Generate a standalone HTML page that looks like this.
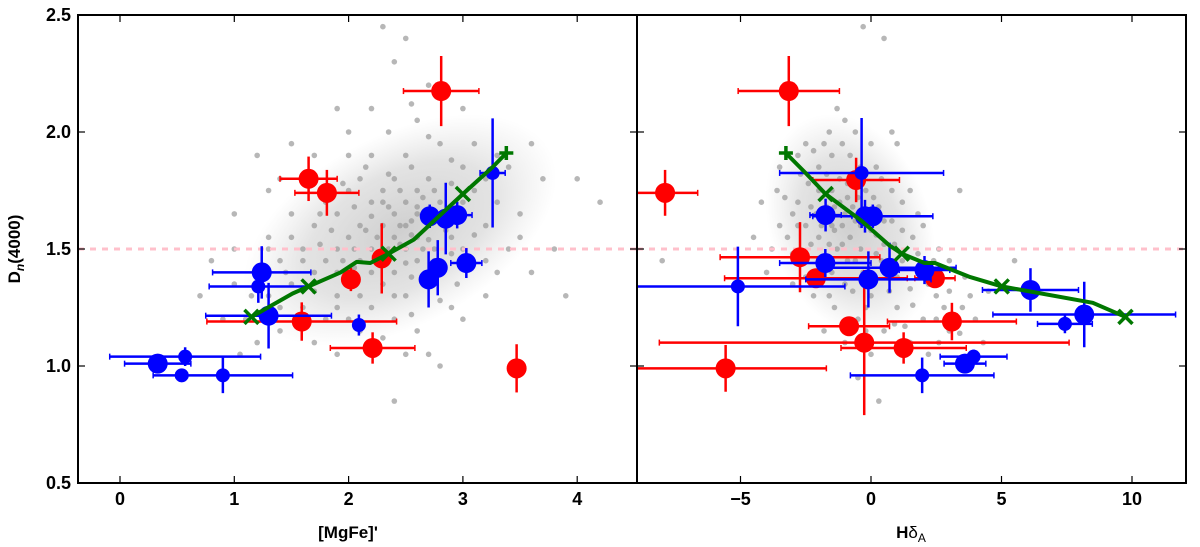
<!DOCTYPE html>
<html><head><meta charset="utf-8"><style>
html,body{margin:0;padding:0;background:#fff}
svg{display:block;font-family:"Liberation Sans",sans-serif;font-weight:bold}
</style></head><body>
<svg id="chart" width="1200" height="547" viewBox="0 0 1200 547" xmlns="http://www.w3.org/2000/svg">
<defs>
<radialGradient id="cloudGrad"><stop offset="0" stop-color="#a8a8a8" stop-opacity="0.55"/><stop offset="0.6" stop-color="#b0b0b0" stop-opacity="0.35"/><stop offset="1" stop-color="#c0c0c0" stop-opacity="0"/></radialGradient>
</defs>
</svg>
<script>
// ---- data ----
const yTicks=[0.5,1.0,1.5,2.0,2.5];
const yTickLabels=["0.5","1.0","1.5","2.0","2.5"];
const leftXTicks=[0,1,2,3,4];
const leftXTickLabels=["0","1","2","3","4"];
const rightXTicks=[-5,0,5,10];
const rightXTickLabels=["\u22125","0","5","10"];
const leftRed=[[2.81,2.175,0.33,0.15],[1.65,1.80,0.25,0.095],[1.81,1.74,0.28,0.098],[2.29,1.46,0.08,0.15],[2.02,1.37,0.05,0.05],[1.59,1.19,0.83,0.082],[2.21,1.077,0.37,0.067],[3.47,0.99,0,0.103]];
const leftBlue=[[3.26,1.825,0.11,0.233,0],[2.71,1.64,0.05,0.05,1],[2.85,1.63,0.05,0.153,1],[2.95,1.645,0.13,0.057,1],[2.78,1.42,0.05,0.118,1],[2.70,1.37,0.05,0.12,1],[3.03,1.44,0.136,0.064,1],[1.24,1.40,0.43,0.112,1],[1.21,1.34,0.43,0.07,0],[1.30,1.215,0.55,0.14,1],[2.09,1.175,0.03,0.045,0],[0.33,1.01,0.29,0,1],[0.57,1.04,0.66,0.04,0],[0.54,0.96,0.05,0,0],[0.90,0.96,0.61,0.076,0]];
const leftGreenX=[1.15,1.51,1.65,1.93,2.07,2.19,2.35,2.57,3.0,3.26,3.38];
const leftGreenY=[1.21,1.31,1.34,1.40,1.445,1.44,1.48,1.54,1.735,1.85,1.91];
const leftGreenMarks=[1.15,1.65,2.35,3.0];
const rightRed=[[-3.15,2.175,1.94,0.15],[-7.89,1.74,1.25,0.098],[-0.57,1.795,1.66,0.095],[-2.72,1.465,3.06,0.15],[-2.11,1.375,3.5,0.04],[2.45,1.375,0.77,0.04],[-0.84,1.17,1.55,0.036],[-0.26,1.10,7.85,0.31],[1.25,1.077,2.4,0.067],[3.10,1.19,2.47,0.08],[-5.57,0.99,3.86,0.1]];
const rightBlue=[[-0.36,1.825,3.14,0.235,0],[-1.74,1.645,0.6,0.07,1],[-0.23,1.64,0.5,0.07,1],[0.07,1.64,2.3,0.05,1],[-1.75,1.44,1.75,0.06,1],[0.71,1.42,2.55,0.107,1],[2.05,1.41,0.97,0.06,1],[-0.1,1.37,2.4,0.12,1],[-5.1,1.34,4.1,0.17,0],[6.11,1.325,1.84,0.093,1],[8.17,1.22,3.5,0.14,1],[7.43,1.18,1.05,0.04,0],[3.93,1.04,1.28,0.03,0],[3.6,1.01,0.8,0.02,1],[1.96,0.96,2.75,0.076,0]];
const rightGreenX=[-3.26,-2.51,-1.74,-0.36,0.71,1.18,2.05,2.45,3.8,5.01,8.5,9.75];
const rightGreenY=[1.91,1.825,1.735,1.62,1.515,1.48,1.44,1.44,1.38,1.34,1.27,1.21];
const rightGreenMarks=[-1.74,1.18,5.01,9.75];
const leftGrey=[[2.3,2.45],[2.5,2.4],[2.4,2.3],[1.9,2.1],[2.0,2.0],[2.6,2.05],[2.8,1.95],[3.1,1.95],[1.5,1.95],[1.2,1.9],[2.2,1.9],[2.5,1.9],[3.0,1.85],[3.4,1.85],[3.7,1.8],[2.1,1.8],[2.4,1.8],[2.7,1.8],[1.3,1.75],[2.0,1.75],[2.3,1.75],[2.6,1.75],[3.1,1.75],[1.8,1.7],[2.2,1.7],[2.5,1.7],[2.8,1.7],[3.3,1.7],[1.0,1.65],[1.5,1.65],[1.9,1.65],[2.4,1.65],[2.6,1.65],[3.5,1.65],[1.7,1.6],[2.1,1.6],[2.3,1.6],[2.5,1.6],[2.7,1.6],[3.2,1.6],[1.3,1.55],[2.0,1.55],[2.4,1.55],[2.6,1.55],[2.9,1.55],[3.0,1.5],[1.6,1.5],[1.9,1.5],[2.2,1.5],[2.5,1.5],[3.4,1.5],[0.8,1.45],[1.4,1.45],[1.8,1.45],[2.1,1.45],[2.6,1.45],[2.8,1.4],[3.6,1.4],[1.2,1.4],[1.7,1.4],[2.4,1.4],[1.0,1.35],[1.5,1.35],[2.0,1.35],[2.3,1.35],[2.7,1.35],[3.2,1.3],[0.7,1.3],[1.3,1.3],[1.9,1.3],[2.5,1.3],[2.2,1.25],[1.6,1.25],[2.9,1.25],[1.1,1.2],[1.8,1.2],[2.4,1.2],[3.0,1.2],[2.1,1.15],[1.4,1.15],[2.6,1.15],[2.7,1.05],[1.9,1.05],[2.4,0.85],[2.8,1.0],[3.8,1.5],[4.2,1.7],[3.9,1.3],[2.35,1.68],[2.55,1.62],[2.45,1.52],[2.65,1.72],[2.15,1.58],[2.75,1.5],[2.05,1.42],[2.85,1.62],
[2.2,2.1],[2.35,2.0],[2.7,1.98],[2.9,1.88],[2.15,1.85],[2.55,1.85],[2.35,1.82],[2.9,1.78],[3.2,1.8],[1.95,1.78],[2.45,1.75],[2.75,1.75],[3.0,1.7],[2.05,1.68],[2.3,1.7],[2.6,1.68],[2.9,1.66],[1.75,1.65],[2.2,1.64],[2.45,1.6],[2.85,1.58],[3.1,1.56],[1.85,1.58],[2.25,1.55],[2.55,1.56],[2.7,1.54],[1.5,1.55],[1.75,1.52],[2.05,1.5],[2.35,1.5],[2.65,1.5],[2.9,1.48],[3.2,1.45],[1.3,1.5],[1.6,1.45],[1.95,1.45],[2.3,1.45],[2.5,1.44],[2.75,1.45],[1.45,1.4],[1.9,1.4],[2.2,1.4],[2.55,1.38],[2.95,1.35],[1.15,1.3],[1.7,1.32],[2.1,1.3],[2.4,1.3],[2.8,1.28],[1.4,1.25],[1.9,1.25],[2.55,1.22],[1.6,1.18],[2.0,1.2],[2.3,1.12],[1.2,1.1],[1.7,1.1],[2.5,1.05],[3.3,1.4],[3.5,1.55],[3.3,1.9],[1.0,1.5],[0.9,1.2],[1.05,1.05],[3.0,2.1],[2.7,2.2],[2.55,2.12],[1.7,1.9],[1.4,1.8],[2.0,1.9],[3.6,1.95],[4.0,1.8]];
const rightGrey=[[-0.3,2.45],[0.5,2.4],[-1.6,2.0],[-1.0,2.05],[-3.5,1.85],[-2.5,1.95],[-1.5,1.9],[-0.8,1.9],[0,1.95],[1.0,1.95],[-2.0,1.85],[-1.2,1.8],[0.4,1.8],[1.5,1.75],[3.4,1.75],[-4.2,1.7],[-2.8,1.7],[-2.0,1.75],[-0.5,1.72],[1.2,1.7],[-3.0,1.65],[-1.0,1.65],[0.8,1.62],[2.0,1.6],[-2.5,1.6],[-1.5,1.6],[0,1.58],[1.6,1.55],[-4.5,1.55],[-3.2,1.55],[-2.0,1.55],[-0.8,1.55],[0.5,1.52],[2.6,1.5],[-3.8,1.5],[-1.3,1.5],[0.2,1.48],[1.2,1.45],[3.0,1.45],[-2.6,1.45],[-0.6,1.45],[2.0,1.42],[-1.9,1.4],[0.6,1.4],[3.6,1.38],[-3.0,1.35],[-1.0,1.35],[1.5,1.33],[4.5,1.32],[-2.2,1.3],[0,1.3],[2.5,1.3],[-1.4,1.25],[1.0,1.25],[3.5,1.25],[-0.5,1.2],[2.0,1.2],[4.0,1.2],[0.5,1.15],[-1.8,1.15],[3.0,1.15],[1.5,1.1],[-1.0,1.1],[4.3,1.1],[2.2,1.05],[0,1.05],[-0.5,0.95],[-8.0,1.45],[5.5,1.45],[0.3,0.85],[-1.2,1.7],[-0.7,1.68],[-1.7,1.68],[-0.2,1.75],[-1.4,1.58],[-0.4,1.6],[-2.3,1.68],[-0.9,1.78],[0.3,1.68],[-1.1,1.52],
[-2.2,1.92],[-1.8,1.95],[-1.1,1.95],[-0.6,2.0],[-2.7,1.82],[-1.7,1.82],[-0.4,1.85],[0.2,1.85],[-2.4,1.78],[-1.5,1.75],[-0.9,1.72],[0.1,1.72],[0.8,1.75],[-3.3,1.72],[-2.1,1.65],[-1.4,1.68],[-0.6,1.62],[0.5,1.62],[-2.8,1.6],[-1.9,1.6],[-1.1,1.6],[0.2,1.56],[1.2,1.58],[-3.5,1.6],[-2.3,1.52],[-1.6,1.52],[-0.4,1.5],[0.9,1.52],[-3.0,1.48],[-2.0,1.46],[-0.9,1.45],[0.4,1.45],[1.8,1.48],[-1.5,1.4],[-0.3,1.4],[1.0,1.38],[2.4,1.45],[-2.5,1.38],[-0.7,1.32],[0.7,1.32],[2.2,1.35],[3.0,1.32],[-1.6,1.3],[-0.2,1.25],[1.6,1.26],[2.8,1.25],[-0.9,1.2],[0.9,1.18],[2.5,1.2],[3.4,1.14],[-0.2,1.15],[1.3,1.17],[2.6,1.1],[3.8,1.3],[-4.0,1.4],[-3.6,1.75],[-2.8,1.9],[-1.3,2.1],[0.8,2.0],[1.8,1.65]];

// ---- layout ----
const TOP=15,BOT=483,LX0=78,LX1=637,RX0=637,RX1=1186;
const Y=v=>483-234*(v-0.5);
const XL=v=>120+114.3*v;
const XR=v=>871+26.1*v;
const svg=document.getElementById('chart');
const NS='http://www.w3.org/2000/svg';
function mk(tag,at,parent){const e=document.createElementNS(NS,tag);for(const k in at)e.setAttribute(k,at[k]);(parent||svg).appendChild(e);return e;}

function panel(name,x0,x1,X,grey,red,blue,gx,gy,gmarks,xticks,xlabels,cloud){
  const g=mk('g',{'clip-path':'url(#clip-'+name+')'});
  
  
  const cp=mk('clipPath',{id:'clip-'+name});
  mk('rect',{x:x0,y:TOP,width:x1-x0,height:BOT-TOP},cp);
  const cl=mk('ellipse',{cx:X(cloud[0]),cy:Y(cloud[1]),rx:cloud[2],ry:cloud[3],transform:`rotate(${cloud[4]} ${X(cloud[0])} ${Y(cloud[1])})`,fill:'url(#cloudGrad)'},g);
  
  
  grey.forEach(p=>{
    const c=mk('circle',{cx:X(p[0]),cy:Y(p[1]),r:2.8,fill:'#999','fill-opacity':0.7},g);
    
    
  });
  const dl=mk('line',{x1:x0,x2:x1,y1:Y(1.5),y2:Y(1.5),stroke:'#ffc0cb','stroke-width':3,'stroke-dasharray':'6 6'},g);
  
  
  function pts(arr,col,isBlue){
    arr.forEach(p=>{
      const gg=mk('g',{},g);
      
      
      const cx=X(p[0]),cy=Y(p[1]);
      if(p[2]>0){const a=X(p[0]-p[2]),b=X(p[0]+p[2]);
        mk('line',{x1:a,x2:b,y1:cy,y2:cy,stroke:col,'stroke-width':2.5},gg);
        mk('line',{x1:a,x2:a,y1:cy-3,y2:cy+3,stroke:col,'stroke-width':1.5},gg);
        mk('line',{x1:b,x2:b,y1:cy-3,y2:cy+3,stroke:col,'stroke-width':1.5},gg);}
      if(p[3]>0){const a=Y(p[1]-p[3]),b=Y(p[1]+p[3]);
        mk('line',{x1:cx,x2:cx,y1:a,y2:b,stroke:col,'stroke-width':2.5},gg);}
      const r=isBlue?(p[4]?10:7):10;
      mk('circle',{cx:cx,cy:cy,r:r,fill:col},gg);
    });
  }
  pts(red,'#ff0000',false);
  pts(blue,'#0000ff',true);
  let d='';gx.forEach((v,i)=>{d+=(i?'L':'M')+X(v).toFixed(1)+','+Y(gy[i]).toFixed(1);});
  const gl=mk('path',{d:d,fill:'none',stroke:'#007700','stroke-width':4,'stroke-linejoin':'round'},g);
  
  
  gx.forEach((v,i)=>{
    const cx=X(v),cy=Y(gy[i]);let m;
    if(gmarks.indexOf(v)>=0){
      m=mk('path',{d:`M${cx-7},${cy-7}L${cx+7},${cy+7}M${cx-7},${cy+7}L${cx+7},${cy-7}`,stroke:'#007700','stroke-width':3.5},g);
    }else if(i===0&&name==='right'||i===gx.length-1&&name==='left'){
      m=mk('path',{d:`M${cx-7},${cy}L${cx+7},${cy}M${cx},${cy-7}L${cx},${cy+7}`,stroke:'#007700','stroke-width':3.5},g);
    }
    if(m){}
  });
  const fr=mk('rect',{x:x0,y:TOP,width:x1-x0,height:BOT-TOP,fill:'none',stroke:'#000','stroke-width':2});
  
  
  xticks.forEach((v,i)=>{
    const x=X(v);
    mk('line',{x1:x,x2:x,y1:BOT,y2:BOT-7,stroke:'#000','stroke-width':1.2});
    mk('line',{x1:x,x2:x,y1:TOP,y2:TOP+7,stroke:'#000','stroke-width':1.2});
    const t=mk('text',{x:x,y:505,'text-anchor':'middle','font-size':18});
    t.textContent=xlabels[i];
    
    
  });
  yTicks.forEach(v=>{
    mk('line',{x1:x0,x2:x0+7,y1:Y(v),y2:Y(v),stroke:'#000','stroke-width':1.2});
    mk('line',{x1:x1,x2:x1-7,y1:Y(v),y2:Y(v),stroke:'#000','stroke-width':1.2});
  });
}
panel('left',LX0,LX1,XL,leftGrey,leftRed,leftBlue,leftGreenX,leftGreenY,leftGreenMarks,leftXTicks,leftXTickLabels,[2.45,1.58,170,95,-28]);
panel('right',RX0,RX1,XR,rightGrey,rightRed,rightBlue,rightGreenX,rightGreenY,rightGreenMarks,rightXTicks,rightXTickLabels,[-0.8,1.6,80,115,-20]);
yTicks.forEach((v,i)=>{
  const t=mk('text',{x:71,y:Y(v)+6,'text-anchor':'end','font-size':18});
  t.textContent=yTickLabels[i];
  
  
});
</script>
<svg style="position:absolute;left:0;top:0" width="1200" height="547">
<text transform="translate(20,249) rotate(-90)" text-anchor="middle" font-size="17" font-family="Liberation Sans, sans-serif" font-weight="bold">D<tspan font-style="italic" font-size="12" dy="4">n</tspan><tspan dy="-4">(4000)</tspan></text>
<text x="348" y="538" text-anchor="middle" font-size="17" font-family="Liberation Sans, sans-serif" font-weight="bold">[MgFe]'</text>
<text x="911" y="538" text-anchor="middle" font-size="17" font-family="Liberation Sans, sans-serif" font-weight="bold">H<tspan font-weight="normal">δ</tspan><tspan font-size="12" dy="4" font-weight="normal">A</tspan></text>
</svg>
</body></html>
